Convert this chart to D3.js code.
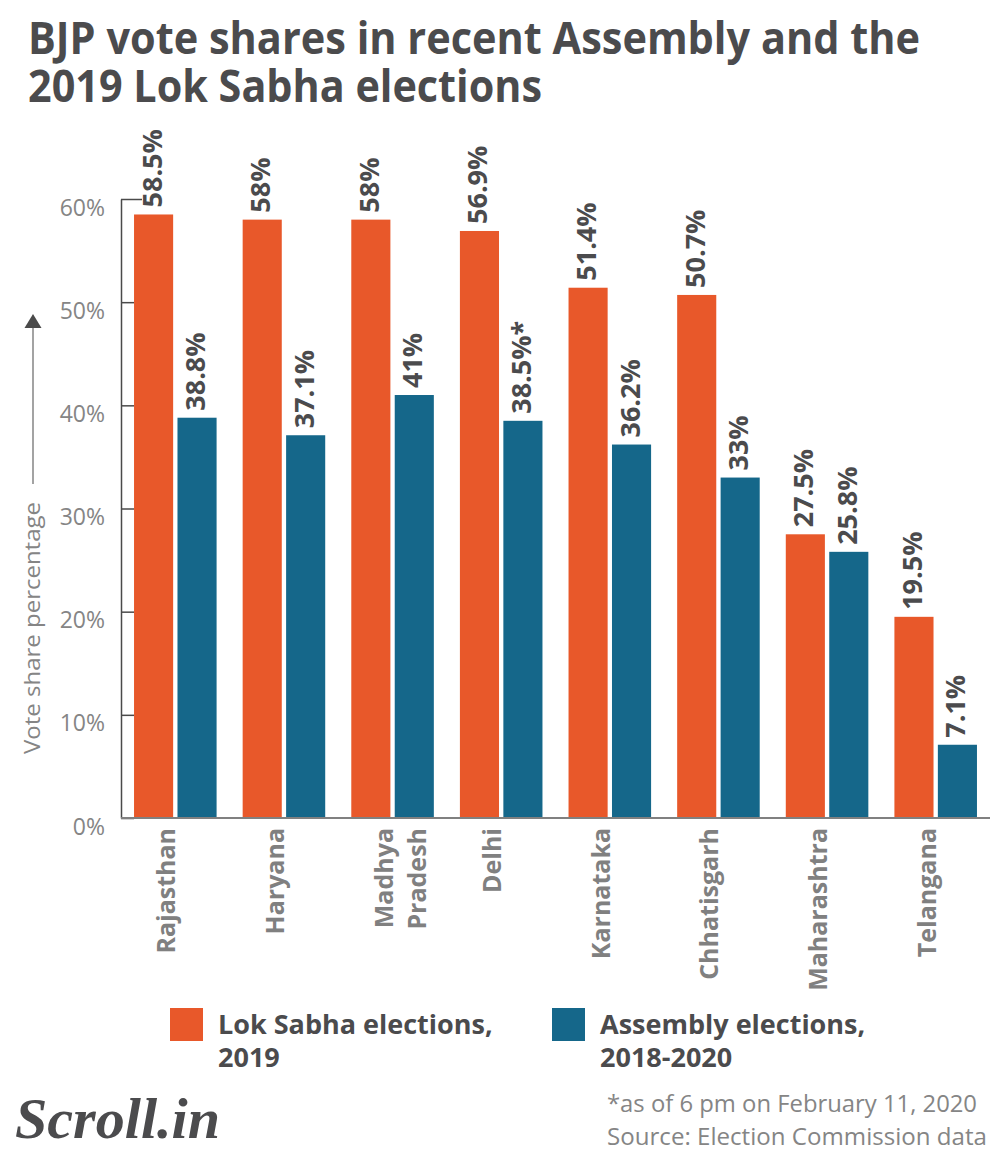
<!DOCTYPE html>
<html>
<head>
<meta charset="utf-8">
<script src="https://cdn.jsdelivr.net/npm/d3@7"></script>
<style>
  html, body { margin: 0; padding: 0; background: #fff; }
  svg { display: block; font-family: "Open Sans", sans-serif; }
</style>
</head>
<body>
<svg id="chart" width="1000" height="1160"></svg>
<script>
// ---- data ----
const categories = ["Rajasthan", "Haryana", "Madhya Pradesh", "Delhi", "Karnataka", "Chhatisgarh", "Maharashtra", "Telangana"];
const categoryLines = [["Rajasthan"], ["Haryana"], ["Madhya", "Pradesh"], ["Delhi"], ["Karnataka"], ["Chhatisgarh"], ["Maharashtra"], ["Telangana"]];
const lokSabha2019 = [58.5, 58, 58, 56.9, 51.4, 50.7, 27.5, 19.5];
const assembly = [38.8, 37.1, 41, 38.5, 36.2, 33, 25.8, 7.1];
const assemblyNotes = ["", "", "", "*", "", "", "", ""];
const seriesNames = ["Lok Sabha elections, 2019", "Assembly elections, 2018-2020"];
const yTicks = [0, 10, 20, 30, 40, 50, 60];

const colors = ["#e8582a", "#15678a"];
const svg = d3.select("#chart");

const x0 = d3.scaleBand().domain(categories).range([121, 990]).paddingInner(0.24).paddingOuter(0.12);
const x1 = d3.scaleBand().domain([0, 1]).range([0, x0.bandwidth()]).paddingInner(0.1);
const y = d3.scaleLinear().domain([0, 60]).range([818, 199]);

// ---- title (one text, two lines) ----
const title = svg.append("text").attr("fill", "#4b4b4d").attr("font-weight", 700).attr("font-size", 44);
title.append("tspan").attr("x", 28).attr("y", 54).attr("textLength", 892).attr("lengthAdjust", "spacingAndGlyphs")
  .text("BJP vote shares in recent Assembly and the");
title.append("tspan").attr("x", 28).attr("y", 102).attr("textLength", 514).attr("lengthAdjust", "spacingAndGlyphs")
  .text("2019 Lok Sabha elections");

// ---- y axis ----
const yAxis = svg.append("g").attr("transform", "translate(121,0)")
  .call(d3.axisLeft(y).tickValues(yTicks).tickFormat(d => d + "%").tickSizeInner(-13).tickSizeOuter(0).tickPadding(16));
yAxis.select(".domain").attr("stroke", "#4a4a4a").attr("stroke-width", 1.5);
yAxis.selectAll(".tick line").attr("stroke", "#4a4a4a").attr("stroke-width", 1.5);
yAxis.selectAll(".tick").filter(d => d === 60).select("line").attr("x2", 21);
yAxis.selectAll(".tick text").attr("fill", "#858585").attr("font-size", 23)
  .attr("font-family", "'Open Sans', sans-serif").attr("dy", "0.7em");

// y axis title and arrow
svg.append("text").attr("transform", "translate(40,628) rotate(-90)").attr("text-anchor", "middle")
  .attr("fill", "#858585").attr("font-size", 22).attr("textLength", 252).attr("lengthAdjust", "spacingAndGlyphs")
  .text("Vote share percentage");
svg.append("line").attr("x1", 33).attr("x2", 33).attr("y1", 484).attr("y2", 327)
  .attr("stroke", "#858585").attr("stroke-width", 1.5);
svg.append("path").attr("d", "M33,314 L41.5,328 L24.5,328 Z").attr("fill", "#4a4a4a");

// ---- bars ----
const series = [lokSabha2019, assembly];
const groups = svg.append("g").selectAll("g").data(categories).join("g")
  .attr("transform", d => `translate(${x0(d)},0)`);

groups.each(function(cat, i) {
  const g = d3.select(this);
  series.forEach((vals, s) => {
    const v = vals[i];
    g.append("rect")
      .attr("x", x1(s)).attr("width", x1.bandwidth())
      .attr("y", y(v)).attr("height", y(0) - y(v))
      .attr("fill", colors[s]);
    const label = v + "%" + (s === 1 ? assemblyNotes[i] : "");
    g.append("text")
      .attr("transform", `translate(${x1(s) + x1.bandwidth() / 2 + 8},${y(v) - 7}) rotate(-90)`)
      .attr("fill", "#4b4b4d").attr("font-weight", 700).attr("font-size", 27)
      .text(label);
  });
});

// ---- x axis baseline ----
svg.append("line").attr("x1", 121).attr("x2", 990).attr("y1", 818).attr("y2", 818)
  .attr("stroke", "#808080").attr("stroke-width", 2);

// x labels
categories.forEach((cat, i) => {
  const cx = x0(cat) + x0.bandwidth() / 2;
  categoryLines[i].forEach((line, j) => {
    svg.append("text")
      .attr("transform", `translate(${cx + j * 33},828) rotate(-90)`)
      .attr("text-anchor", "end").attr("fill", "#808080")
      .attr("font-weight", 700).attr("font-size", 25)
      .text(line);
  });
});

// ---- legend ----
const legendItems = [
  { x: 170, lines: ["Lok Sabha elections,", "2019"] },
  { x: 552, lines: ["Assembly elections,", "2018-2020"] }
];
legendItems.forEach((item, s) => {
  svg.append("rect").attr("x", item.x).attr("y", 1008).attr("width", 33).attr("height", 33).attr("fill", colors[s]);
  const t = svg.append("text").attr("fill", "#4b4b4d").attr("font-weight", 700).attr("font-size", 27);
  item.lines.forEach((line, j) => {
    t.append("tspan").attr("x", item.x + 48).attr("y", 1034 + j * 33).text(line);
  });
});

// ---- footer ----
const foot = svg.append("text").attr("fill", "#858585").attr("font-size", 23);
foot.append("tspan").attr("x", 607).attr("y", 1112)
  .attr("textLength", 370).attr("lengthAdjust", "spacingAndGlyphs").text("*as of 6 pm on February 11, 2020");
foot.append("tspan").attr("x", 607).attr("y", 1145)
  .attr("textLength", 380).attr("lengthAdjust", "spacingAndGlyphs").text("Source: Election Commission data");

// logo
svg.append("text").attr("x", 15).attr("y", 1138).attr("fill", "#4b4b4d")
  .attr("font-family", "'Liberation Serif', serif").attr("font-style", "italic").attr("font-weight", 700)
  .attr("font-size", 58).attr("textLength", 205).attr("lengthAdjust", "spacingAndGlyphs").text("Scroll.in");
</script>
</body>
</html>
